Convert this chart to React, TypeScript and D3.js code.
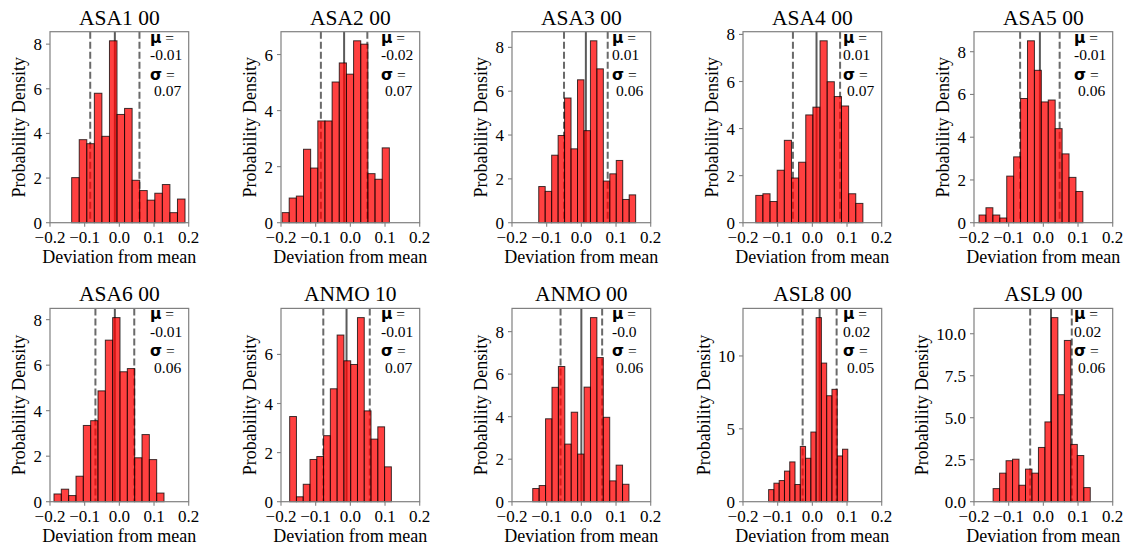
import React from "react";
import * as d3 from "d3";

const titles = ["ASA1 00", "ASA2 00", "ASA3 00", "ASA4 00", "ASA5 00", "ASA6 00", "ANMO 10", "ANMO 00", "ASL8 00", "ASL9 00"];
const muLabels = ["-0.01", "-0.02", "0.01", "0.01", "-0.01", "-0.01", "-0.01", "-0.0", "0.02", "0.02"];
const sigmaLabels = ["0.07", "0.07", "0.06", "0.07", "0.06", "0.06", "0.07", "0.06", "0.05", "0.06"];
const means = [-0.013, -0.018, 0.013, 0.012, -0.01, -0.013, -0.011, 0.0, 0.021, 0.022];
const stds = [0.071, 0.067, 0.063, 0.068, 0.057, 0.056, 0.067, 0.06, 0.049, 0.06];
const binLo = [-0.1375, -0.197, -0.1229, -0.1632, -0.1855, -0.1885, -0.175, -0.1402, -0.1261, -0.1449];
const binHi = [0.1894, 0.1125, 0.1566, 0.1458, 0.114, 0.1288, 0.1183, 0.1373, 0.1022, 0.1353];
const densities = [
  [2.02, 3.72, 3.54, 5.8, 3.87, 8.15, 4.85, 5.12, 1.9, 1.44, 1.01, 1.32, 1.71, 0.45, 1.06],
  [0.36, 0.88, 0.95, 2.62, 1.95, 3.63, 3.63, 5.02, 5.7, 5.3, 6.49, 6.37, 1.75, 1.55, 2.67],
  [1.65, 1.43, 3.08, 3.98, 5.69, 3.37, 6.52, 4.2, 8.3, 7.02, 1.9, 2.23, 2.84, 1.06, 1.27],
  [1.16, 1.23, 0.9, 2.23, 3.5, 1.9, 2.57, 4.58, 4.91, 7.73, 5.99, 5.36, 4.96, 1.23, 0.82],
  [0.36, 0.7, 0.36, 0.22, 2.18, 3.08, 5.81, 8.51, 7.13, 5.65, 5.74, 4.4, 3.22, 2.12, 1.46],
  [0.34, 0.55, 0.27, 1.12, 3.35, 3.56, 4.87, 7.1, 8.09, 5.71, 5.85, 1.93, 2.95, 1.85, 0.38],
  [3.47, 0.2, 0.71, 1.72, 1.84, 2.69, 4.6, 6.79, 5.74, 5.59, 7.5, 3.7, 2.55, 3.05, 1.42],
  [0.62, 0.76, 3.9, 5.38, 6.36, 2.71, 4.21, 2.24, 5.39, 8.66, 6.78, 3.97, 0.98, 1.72, 0.82],
  [0.83, 1.27, 1.45, 2.1, 2.73, 1.18, 3.79, 2.98, 4.78, 12.63, 9.51, 7.27, 7.71, 3.14, 3.6],
  [0.78, 1.7, 2.44, 2.53, 0.98, 1.94, 1.7, 3.23, 4.75, 10.96, 6.37, 9.6, 3.41, 2.75, 0.84],
];
const yTicks = [
  [0, 2, 4, 6, 8],
  [0, 2, 4, 6],
  [0, 2, 4, 6, 8],
  [0, 2, 4, 6, 8],
  [0, 2, 4, 6, 8],
  [0, 2, 4, 6, 8],
  [0, 2, 4, 6],
  [0, 2, 4, 6, 8],
  [0, 5, 10],
  [0, 2.5, 5, 7.5, 10],
];
const yTickFormats = ["d", "d", "d", "d", "d", "d", "d", "d", "d", ".1f"];
const xTicks = [-0.2, -0.1, 0, 0.1, 0.2];

const SERIF = "Liberation Serif, DejaVu Serif, serif";
const SANSB = "DejaVu Sans, sans-serif";
const TICK_FS = 17;
const LABEL_FS = 18;
const TITLE_FS = 21.5;
const STAT_FS = 15.5;

const colLefts = [50, 281, 512, 743, 974];
const rowTops = [31.7, 308.4];
const rowBottoms = [222.7, 501.7];
const AX_W = 138.7;

function fmtMinus(s: string) {
  return s.replace(/^-/, "\u2212");
}

function textWidth(s: string, fs: number) {
  let w = 0;
  for (const c of s) {
    if (c === ".") w += 0.25;
    else if (c === "\u2212") w += 0.564;
    else w += 0.5;
  }
  return w * fs;
}

function Panel({ i }: { i: number }) {
  const col = i % 5;
  const row = Math.floor(i / 5);
  const left = colLefts[col];
  const top = rowTops[row];
  const bottom = rowBottoms[row];
  const dens = densities[i];
  const ymax = (d3.max(dens) as number) * 1.05;
  const x = d3.scaleLinear().domain([-0.2, 0.2]).range([left, left + AX_W]);
  const y = d3.scaleLinear().domain([0, ymax]).range([bottom, top]);
  const nb = dens.length;
  const edges = d3.range(nb + 1).map((k) => binLo[i] + ((binHi[i] - binLo[i]) * k) / nb);
  const yfmt = d3.format(yTickFormats[i]);
  const yLabels = yTicks[i].map((v) => yfmt(v));
  const maxW = d3.max(yLabels, (s) => textWidth(s, TICK_FS)) as number;
  const ylabelX = left - 4 - 4 - maxW - 4 - 4.5;
  const cx = left + AX_W / 2;
  const cy = (top + bottom) / 2;
  const statX = left + 100;
  const lineColor = "#5a5a5a";
  return (
    <g>
      <text x={cx} y={top - 7} textAnchor="middle" fontFamily={SERIF} fontSize={TITLE_FS} fill="#000">
        {titles[i]}
      </text>
      <line x1={x(means[i])} x2={x(means[i])} y1={top} y2={bottom} stroke={lineColor} strokeWidth={2} />
      {[means[i] - stds[i], means[i] + stds[i]].map((v, k) => (
        <line key={k} x1={x(v)} x2={x(v)} y1={top} y2={bottom} stroke="#6a6a6a" strokeWidth={2} strokeDasharray="7,3" />
      ))}
      {dens.map((d, k) => (
        <rect
          key={k}
          x={x(edges[k])}
          y={y(d)}
          width={x(edges[k + 1]) - x(edges[k])}
          height={y(0) - y(d)}
          fill="#ff0000"
          fillOpacity={0.75}
          stroke="#000"
          strokeOpacity={0.75}
          strokeWidth={1}
        />
      ))}
      <rect x={left} y={top} width={AX_W} height={bottom - top} fill="none" stroke="#808080" strokeWidth={1.2} />
      {xTicks.map((v, k) => (
        <g key={k}>
          <line x1={x(v)} x2={x(v)} y1={bottom} y2={bottom + 4} stroke="#808080" strokeWidth={1.1} />
          <text x={x(v)} y={bottom + 20} textAnchor="middle" fontFamily={SERIF} fontSize={TICK_FS} fill="#000">
            {fmtMinus(d3.format(".1f")(v))}
          </text>
        </g>
      ))}
      {yTicks[i].map((v, k) => (
        <g key={k}>
          <line x1={left - 4} x2={left} y1={y(v)} y2={y(v)} stroke="#808080" strokeWidth={1.1} />
          <text x={left - 8} y={y(v) + 6} textAnchor="end" fontFamily={SERIF} fontSize={TICK_FS} fill="#000">
            {yLabels[k]}
          </text>
        </g>
      ))}
      <text x={cx} y={bottom + 40} textAnchor="middle" fontFamily={SERIF} fontSize={LABEL_FS} fill="#000">
        Deviation from mean
      </text>
      <text
        transform={`translate(${ylabelX},${cy}) rotate(-90)`}
        textAnchor="middle"
        fontFamily={SERIF}
        fontSize={LABEL_FS}
        fill="#000"
      >
        Probability Density
      </text>
      <text x={statX} y={top + 11} fontFamily={SERIF} fontSize={STAT_FS} fill="#000">
        <tspan fontFamily={SANSB} fontWeight="bold">μ</tspan>
        <tspan> =</tspan>
      </text>
      <text x={statX} y={top + 28.5} fontFamily={SERIF} fontSize={STAT_FS} fill="#000">
        {muLabels[i]}
      </text>
      <text x={statX} y={top + 48} fontFamily={SERIF} fontSize={STAT_FS} fill="#000">
        <tspan fontFamily={SANSB} fontWeight="bold">σ</tspan>
        <tspan> =</tspan>
      </text>
      <text x={statX + 4} y={top + 64.5} fontFamily={SERIF} fontSize={STAT_FS} fill="#000">
        {sigmaLabels[i]}
      </text>
    </g>
  );
}

export default function App() {
  return (
    <svg
      width={1133}
      height={548}
      viewBox="0 0 1133 548"
      style={{ position: "absolute", left: 0, top: 0, background: "#fff" }}
    >
      <rect width={1133} height={548} fill="#fff" />
      {titles.map((_, i) => (
        <Panel key={i} i={i} />
      ))}
    </svg>
  );
}
